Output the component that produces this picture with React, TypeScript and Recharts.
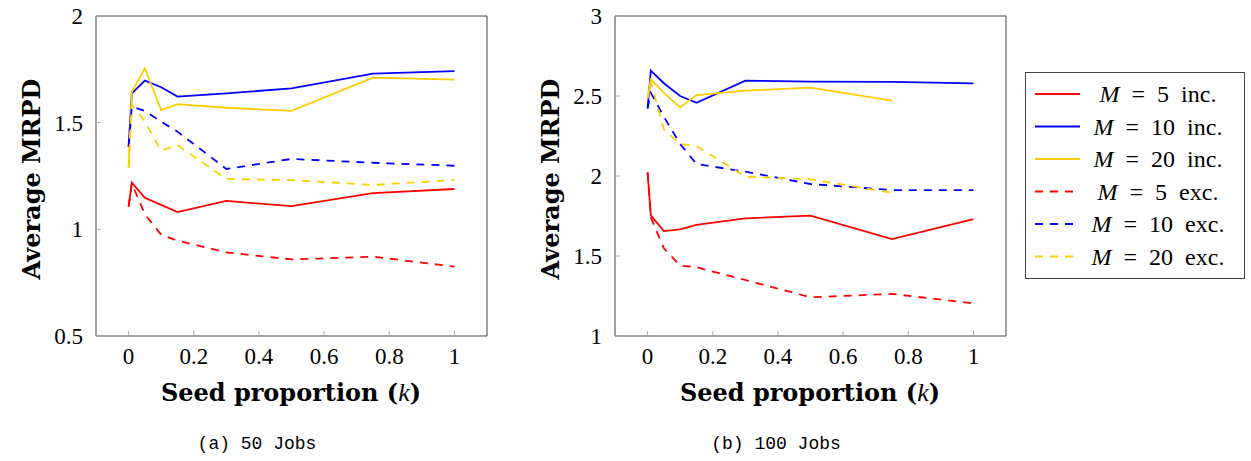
import { Line, LineChart, XAxis, YAxis } from "recharts";

const K_ALL = [0, 0.01, 0.05, 0.1, 0.15, 0.3, 0.5, 0.75, 1];
const K_SHORT = [0, 0.01, 0.05, 0.1, 0.15, 0.3, 0.5, 0.75];
const X_TICKS = [0, 0.2, 0.4, 0.6, 0.8, 1];

// (a) 50 jobs
const J50_M5_INC = [1.106, 1.219, 1.148, 1.115, 1.081, 1.133, 1.109, 1.17, 1.189];
const J50_M10_INC = [1.387, 1.637, 1.697, 1.666, 1.622, 1.637, 1.661, 1.73, 1.742];
const J50_M20_INC = [1.29, 1.645, 1.755, 1.559, 1.587, 1.57, 1.555, 1.711, 1.702];
const J50_M5_EXC = [1.106, 1.215, 1.07, 0.975, 0.947, 0.892, 0.859, 0.872, 0.825];
const J50_M10_EXC = [1.387, 1.575, 1.555, 1.505, 1.458, 1.283, 1.33, 1.312, 1.298];
const J50_M20_EXC = [1.29, 1.585, 1.505, 1.369, 1.395, 1.236, 1.231, 1.208, 1.231];
const J50_Y_TICKS = [0.5, 1, 1.5, 2];

// (b) 100 jobs
const J100_M5_INC = [2.023, 1.754, 1.656, 1.667, 1.694, 1.735, 1.752, 1.606, 1.731];
const J100_M10_INC = [2.423, 2.658, 2.58, 2.5, 2.458, 2.596, 2.59, 2.588, 2.579];
const J100_M20_INC = [2.486, 2.604, 2.52, 2.429, 2.506, 2.533, 2.552, 2.471];
const J100_M5_EXC = [2.023, 1.74, 1.548, 1.44, 1.43, 1.35, 1.242, 1.263, 1.204];
const J100_M10_EXC = [2.423, 2.52, 2.37, 2.2, 2.075, 2.027, 1.95, 1.912, 1.912];
const J100_M20_EXC = [2.486, 2.59, 2.29, 2.2, 2.187, 1.996, 1.979, 1.896];
const J100_Y_TICKS = [1, 1.5, 2, 2.5, 3];

const RED = "#ff0000";
const BLUE = "#0000ff";
const YELLOW = "#ffcc00";
const DASH = "8 7";

const LEGEND = [
  { m: "5", kind: "inc.", color: RED, dashed: false },
  { m: "10", kind: "inc.", color: BLUE, dashed: false },
  { m: "20", kind: "inc.", color: YELLOW, dashed: false },
  { m: "5", kind: "exc.", color: RED, dashed: true },
  { m: "10", kind: "exc.", color: BLUE, dashed: true },
  { m: "20", kind: "exc.", color: YELLOW, dashed: true },
];

const rows = (ks: number[], vs: number[]) => vs.map((v, i) => ({ k: ks[i], v }));

const TICK_FONT = { fontFamily: "Liberation Serif", fontSize: 23, fill: "#000" };
const TITLE_FONT = "DejaVu Serif";
const FRAME = "#444";
const TICK_LINE = "#aaa";

function Panel({
  left,
  series,
  yTicks,
  caption,
}: {
  left: number;
  series: { data: { k: number; v: number }[]; color: string; dashed: boolean }[];
  yTicks: number[];
  caption: string;
}) {
  const yDomain = [yTicks[0], yTicks[yTicks.length - 1]];
  return (
    <div style={{ position: "absolute", left, top: 0, width: 500, height: 461 }}>
      <LineChart width={500} height={461} margin={{ top: 15, right: 12, bottom: 95, left: 36 }}>
        <XAxis
          xAxisId="b"
          dataKey="k"
          type="number"
          domain={[-0.1, 1.1]}
          ticks={X_TICKS}
          height={30}
          tickSize={-5}
          tickMargin={17}
          axisLine={{ stroke: FRAME }}
          tickLine={{ stroke: TICK_LINE }}
          tick={TICK_FONT}
          allowDataOverflow
        />
        <XAxis
          xAxisId="t"
          orientation="top"
          type="number"
          domain={[-0.1, 1.1]}
          ticks={X_TICKS}
          height={1}
          tickSize={-5}
          tick={false}
          axisLine={{ stroke: FRAME }}
          tickLine={{ stroke: TICK_LINE }}
        />
        <YAxis
          yAxisId="l"
          type="number"
          domain={yDomain}
          ticks={yTicks}
          width={60}
          tickSize={-5}
          tickMargin={18}
          axisLine={{ stroke: FRAME }}
          tickLine={{ stroke: TICK_LINE }}
          tick={TICK_FONT}
          allowDataOverflow
        />
        <YAxis
          yAxisId="r"
          orientation="right"
          type="number"
          domain={yDomain}
          ticks={yTicks}
          width={1}
          tickSize={-5}
          tick={false}
          axisLine={{ stroke: FRAME }}
          tickLine={{ stroke: TICK_LINE }}
        />
        {series.map((s, i) => (
          <Line
            key={i}
            data={s.data}
            dataKey="v"
            xAxisId="b"
            yAxisId="l"
            type="linear"
            stroke={s.color}
            strokeWidth={1.8}
            strokeDasharray={s.dashed ? DASH : undefined}
            dot={false}
            activeDot={false}
            isAnimationActive={false}
          />
        ))}
      </LineChart>
      <svg width={500} height={461} style={{ position: "absolute", left: 0, top: 0, pointerEvents: "none" }}>
        <text
          x={0}
          y={0}
          transform="translate(31,179) rotate(-90)"
          textAnchor="middle"
          dominantBaseline="central"
          fontFamily={TITLE_FONT}
          fontWeight="bold"
          fontSize={24}
        >
          Average MRPD
        </text>
        <text x={291} y={401} textAnchor="middle" fontFamily={TITLE_FONT} fontWeight="bold" fontSize={24}>
          Seed proportion (
          <tspan fontStyle="italic" fontWeight="normal" fontFamily="Liberation Serif" fontSize={26}>
            k
          </tspan>
          )
        </text>
        <text x={257} y={449} textAnchor="middle" fontFamily="Liberation Mono" fontSize={18}>
          {caption}
        </text>
      </svg>
    </div>
  );
}

function LegendBox() {
  return (
    <svg width={221} height={208} style={{ position: "absolute", left: 1025, top: 72 }}>
      <rect x={0.5} y={0.5} width={219} height={206} fill="#fff" stroke={FRAME} strokeWidth={1} />
      {LEGEND.map((s, i) => {
        const y = 22 + i * 32.5;
        return (
          <g key={i}>
            <line
              x1={10}
              x2={55}
              y1={y}
              y2={y}
              stroke={s.color}
              strokeWidth={1.8}
              strokeDasharray={s.dashed ? DASH : undefined}
            />
            <text x={133} y={y} dominantBaseline="central" textAnchor="middle" fontFamily="Liberation Serif" fontSize={24}>
              <tspan fontStyle="italic">M</tspan>
              <tspan dx={12}>=</tspan>
              <tspan dx={12}>{s.m}</tspan>
              <tspan dx={12}>{s.kind}</tspan>
            </text>
          </g>
        );
      })}
    </svg>
  );
}

export default function App() {
  const j50 = [
    { data: rows(K_ALL, J50_M5_INC), color: RED, dashed: false },
    { data: rows(K_ALL, J50_M10_INC), color: BLUE, dashed: false },
    { data: rows(K_ALL, J50_M20_INC), color: YELLOW, dashed: false },
    { data: rows(K_ALL, J50_M5_EXC), color: RED, dashed: true },
    { data: rows(K_ALL, J50_M10_EXC), color: BLUE, dashed: true },
    { data: rows(K_ALL, J50_M20_EXC), color: YELLOW, dashed: true },
  ];
  const j100 = [
    { data: rows(K_ALL, J100_M5_INC), color: RED, dashed: false },
    { data: rows(K_ALL, J100_M10_INC), color: BLUE, dashed: false },
    { data: rows(K_SHORT, J100_M20_INC), color: YELLOW, dashed: false },
    { data: rows(K_ALL, J100_M5_EXC), color: RED, dashed: true },
    { data: rows(K_ALL, J100_M10_EXC), color: BLUE, dashed: true },
    { data: rows(K_SHORT, J100_M20_EXC), color: YELLOW, dashed: true },
  ];
  return (
    <div style={{ position: "absolute", left: 0, top: 0, width: 1251, height: 461, background: "#fff" }}>
      <Panel left={0} series={j50} yTicks={J50_Y_TICKS} caption="(a) 50 Jobs" />
      <Panel left={519} series={j100} yTicks={J100_Y_TICKS} caption="(b) 100 Jobs" />
      <LegendBox />
    </div>
  );
}
